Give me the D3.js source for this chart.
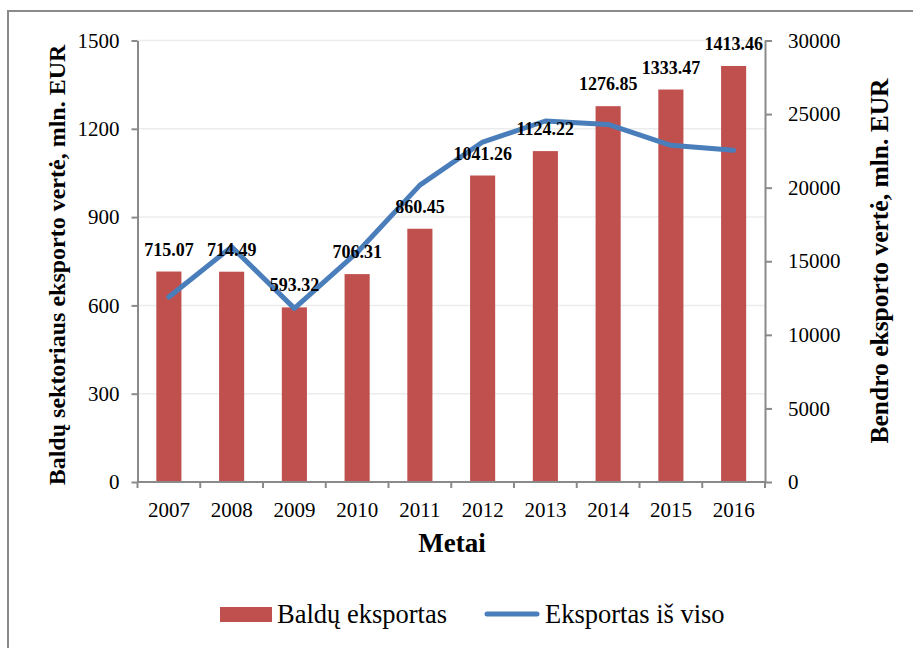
<!DOCTYPE html>
<html>
<head>
<meta charset="utf-8">
<script src="https://cdn.jsdelivr.net/npm/d3@7"></script>
<style>
  body { margin: 0; background: #fff; }
  svg text { font-family: "Times New Roman", "Liberation Serif", serif; }
</style>
</head>
<body>
<div id="chart"></div>
<script>
// data
var years = ["2007", "2008", "2009", "2010", "2011", "2012", "2013", "2014", "2015", "2016"];
var furniture = [715.07, 714.49, 593.32, 706.31, 860.45, 1041.26, 1124.22, 1276.85, 1333.47, 1413.46];
var totalExport = [12570, 15980, 11800, 15600, 20170, 23100, 24530, 24300, 22880, 22540];
var leftTicks = [0, 300, 600, 900, 1200, 1500];
var rightTicks = [0, 5000, 10000, 15000, 20000, 25000, 30000];

var W = 913, H = 648;
var margin = { top: 40.5, right: 148, bottom: 166, left: 137.5 },
  width = W - margin.left - margin.right,
  height = H - margin.top - margin.bottom;

var svg = d3.select("#chart")
  .append("svg")
  .attr("width", W)
  .attr("height", H);

// outer frame (runs off the picture at right and bottom)
svg.append("rect")
  .attr("x", 8).attr("y", 11)
  .attr("width", 920).attr("height", 660)
  .attr("fill", "none")
  .attr("stroke", "#8a8a8a")
  .attr("stroke-width", 2);

var g = svg.append("g")
  .attr("transform", "translate(" + margin.left + "," + margin.top + ")");

var x = d3.scaleBand()
  .domain(years)
  .range([0, width])
  .paddingInner(0.6)
  .paddingOuter(0.3);

var y = d3.scaleLinear().domain([0, 1500]).range([height, 0]);
var y2 = d3.scaleLinear().domain([0, 30000]).range([height, 0]);

// gridlines
g.append("g")
  .selectAll("line")
  .data(leftTicks.slice(1))
  .enter().append("line")
  .attr("x1", 0).attr("x2", width)
  .attr("y1", function (d) { return y(d); })
  .attr("y2", function (d) { return y(d); })
  .attr("stroke", "#ececec")
  .attr("stroke-width", 1.5);

// bars
g.append("g")
  .selectAll("rect")
  .data(furniture)
  .enter().append("rect")
  .attr("x", function (d, i) { return x(years[i]); })
  .attr("y", function (d) { return y(d); })
  .attr("width", x.bandwidth())
  .attr("height", function (d) { return height - y(d); })
  .attr("fill", "#C0504D");

// axes
var axisColor = "#8a8a8a";
function styleAxis(sel) {
  sel.selectAll("path").attr("stroke", axisColor).attr("stroke-width", 2);
  sel.selectAll("line").attr("stroke", axisColor).attr("stroke-width", 2);
  sel.selectAll("text")
    .attr("fill", "#000")
    .style("font-size", "21px")
    .style("font-family", '"Times New Roman", "Liberation Serif", serif');
}

var yAxis = g.append("g")
  .call(d3.axisLeft(y).tickValues(leftTicks).tickFormat(d3.format("d"))
    .tickSize(6).tickSizeOuter(0).tickPadding(12));
styleAxis(yAxis);

var y2Axis = g.append("g")
  .attr("transform", "translate(" + width + ",0)")
  .call(d3.axisRight(y2).tickValues(rightTicks).tickFormat(d3.format("d"))
    .tickSize(7).tickSizeOuter(0).tickPadding(16));
styleAxis(y2Axis);

// x axis with ticks at band boundaries
var xAxis = g.append("g").attr("transform", "translate(0," + height + ")");
xAxis.append("line")
  .attr("x1", 0).attr("x2", width)
  .attr("stroke", axisColor).attr("stroke-width", 2);
var step = x.step();
xAxis.selectAll("line.tk")
  .data(d3.range(years.length + 1))
  .enter().append("line")
  .attr("class", "tk")
  .attr("x1", function (d) { return d * step; })
  .attr("x2", function (d) { return d * step; })
  .attr("y1", 0).attr("y2", 6)
  .attr("stroke", axisColor).attr("stroke-width", 2);
xAxis.selectAll("text")
  .data(years)
  .enter().append("text")
  .attr("x", function (d) { return x(d) + x.bandwidth() / 2; })
  .attr("y", 35)
  .attr("text-anchor", "middle")
  .style("font-size", "21px")
  .text(function (d) { return d; });

// line series
var line = d3.line()
  .x(function (d, i) { return x(years[i]) + x.bandwidth() / 2; })
  .y(function (d) { return y2(d); });

g.append("path")
  .datum(totalExport)
  .attr("fill", "none")
  .attr("stroke", "#4A7EBB")
  .attr("stroke-width", 5)
  .attr("stroke-linejoin", "round")
  .attr("stroke-linecap", "round")
  .attr("d", line);

// data labels
g.append("g")
  .selectAll("text")
  .data(furniture)
  .enter().append("text")
  .attr("x", function (d, i) { return x(years[i]) + x.bandwidth() / 2; })
  .attr("y", function (d) { return y(d) - 16; })
  .attr("text-anchor", "middle")
  .style("font-size", "18px")
  .style("font-weight", "bold")
  .text(function (d) { return d.toFixed(2); });

// axis titles
svg.append("text")
  .attr("transform", "translate(65,265) rotate(-90)")
  .attr("text-anchor", "middle")
  .style("font-size", "24px")
  .style("font-weight", "bold")
  .text("Baldų sektoriaus eksporto vertė, mln. EUR");

svg.append("text")
  .attr("transform", "translate(888,261) rotate(-90)")
  .attr("text-anchor", "middle")
  .style("font-size", "25.5px")
  .style("font-weight", "bold")
  .text("Bendro eksporto vertė, mln. EUR");

svg.append("text")
  .attr("x", 452)
  .attr("y", 552)
  .attr("text-anchor", "middle")
  .style("font-size", "27px")
  .style("font-weight", "bold")
  .text("Metai");

// legend
var legend = svg.append("g");
legend.append("rect")
  .attr("x", 220).attr("y", 607)
  .attr("width", 52).attr("height", 15)
  .attr("fill", "#C0504D");
legend.append("text")
  .attr("x", 277).attr("y", 623)
  .style("font-size", "26.5px")
  .text("Baldų eksportas");
legend.append("line")
  .attr("x1", 487).attr("x2", 537)
  .attr("y1", 614).attr("y2", 614)
  .attr("stroke", "#4A7EBB")
  .attr("stroke-width", 5)
  .attr("stroke-linecap", "round");
legend.append("text")
  .attr("x", 545).attr("y", 623)
  .style("font-size", "26.5px")
  .text("Eksportas iš viso");
</script>
</body>
</html>
